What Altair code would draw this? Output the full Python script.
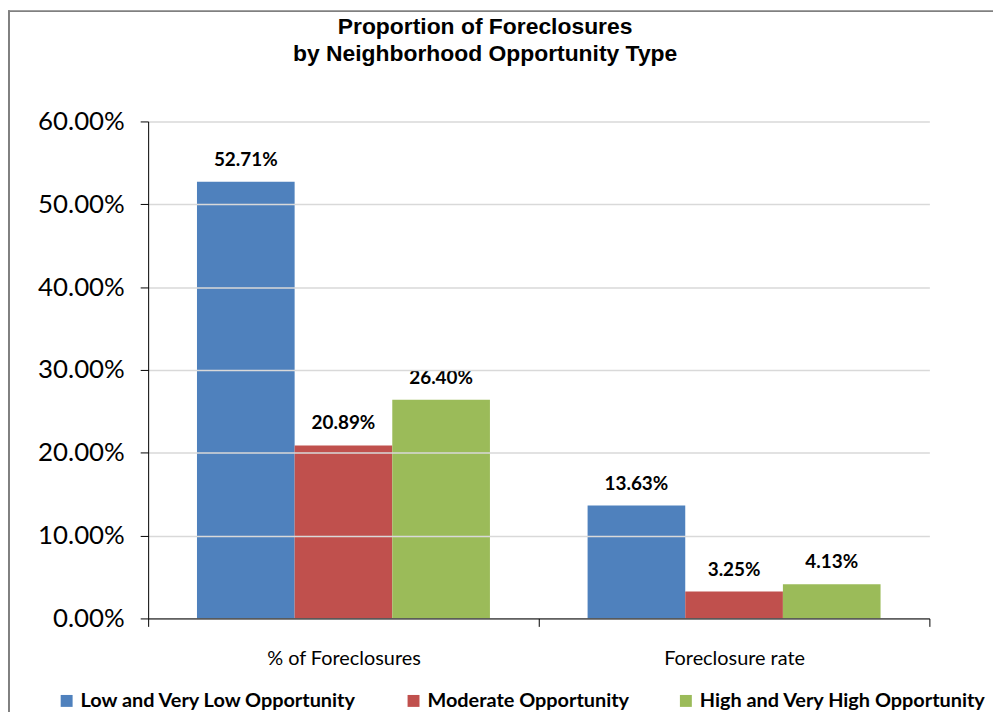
import altair as alt
import pandas as pd

metrics = ["% of Foreclosures", "Foreclosure rate"]
groups = ["Low and Very Low Opportunity", "Moderate Opportunity", "High and Very High Opportunity"]
share_of_foreclosures = [0.5271, 0.2089, 0.2640]
foreclosure_rate = [0.1363, 0.0325, 0.0413]
colors = ["#4F81BD", "#C0504D", "#9BBB59"]
y_ticks = [0.0, 0.1, 0.2, 0.3, 0.4, 0.5, 0.6]

rows = []
for m, vals in zip(metrics, [share_of_foreclosures, foreclosure_rate]):
    for g, v in zip(groups, vals):
        rows.append({"metric": m, "group": g, "value": v})
df = pd.DataFrame(rows)

x_enc = alt.X(
    "metric:N", sort=metrics,
    scale=alt.Scale(paddingInner=0, paddingOuter=0),
    axis=alt.Axis(title=None, labelAngle=0, labelFont="Lato", labelFontSize=20,
                  labelColor="black", tickBand="extent", tickSize=8, tickColor="black",
                  domainColor="black", domainWidth=1, tickWidth=1, labelPadding=22,
                  grid=False, zindex=1),
)
xo_enc = alt.XOffset("group:N", sort=groups, scale=alt.Scale(paddingOuter=0.5, paddingInner=0))
y_enc = alt.Y(
    "value:Q",
    scale=alt.Scale(domain=[0, 0.6], nice=False),
    axis=alt.Axis(title=None, format=".2%", values=y_ticks, labelFont="Lato", labelFontSize=26,
                  labelColor="black", tickSize=8, tickColor="black", domainColor="black",
                  domainWidth=1, tickWidth=1, labelPadding=16, gridColor="#d9d9d9",
                  gridWidth=1.5, zindex=1),
)
color_enc = alt.Color(
    "group:N", sort=groups,
    scale=alt.Scale(domain=groups, range=colors),
    legend=alt.Legend(title=None, orient="none", legendX=-92, legendY=573, direction="horizontal",
                      symbolType="square", symbolSize=144, symbolStrokeWidth=0,
                      labelFont="Lato", labelFontWeight="bold", labelFontSize=20,
                      labelColor="black", labelLimit=600, columnPadding=46, labelOffset=4),
)

bars = alt.Chart(df).mark_bar().encode(x=x_enc, xOffset=xo_enc, y=y_enc, color=color_enc)

labels = alt.Chart(df).mark_text(
    dy=-16, baseline="alphabetic", font="Lato", fontWeight="bold", fontSize=19, color="black"
).encode(x=x_enc, xOffset=xo_enc, y=y_enc, text=alt.Text("value:Q", format=".2%"))

frame_df = pd.DataFrame({"k": [0]})
left_border = alt.Chart(frame_df).mark_rule(color="#808080", strokeWidth=2).encode(
    x=alt.value(-140), y=alt.value(-112), y2=alt.value(620)
)
top_border = alt.Chart(frame_df).mark_rule(color="#808080", strokeWidth=2).encode(
    x=alt.value(-141), x2=alt.value(900), y=alt.value(-111)
)

chart = alt.layer(bars, labels, left_border, top_border).properties(
    width=786,
    height=500,
    autosize=alt.AutoSizeParams(type="none"),
    padding={"left": 141, "top": 112, "right": 64, "bottom": 92},
    title=alt.TitleParams(
        text=["Proportion of Foreclosures", "by Neighborhood Opportunity Type"],
        font="Liberation Sans", fontSize=23, fontWeight="bold", color="black",
        anchor="middle", dx=-54, offset=-57, lineHeight=27,
    ),
).configure_view(stroke=None)

chart.save("out.html", embed_options={"renderer": "svg", "actions": False})
